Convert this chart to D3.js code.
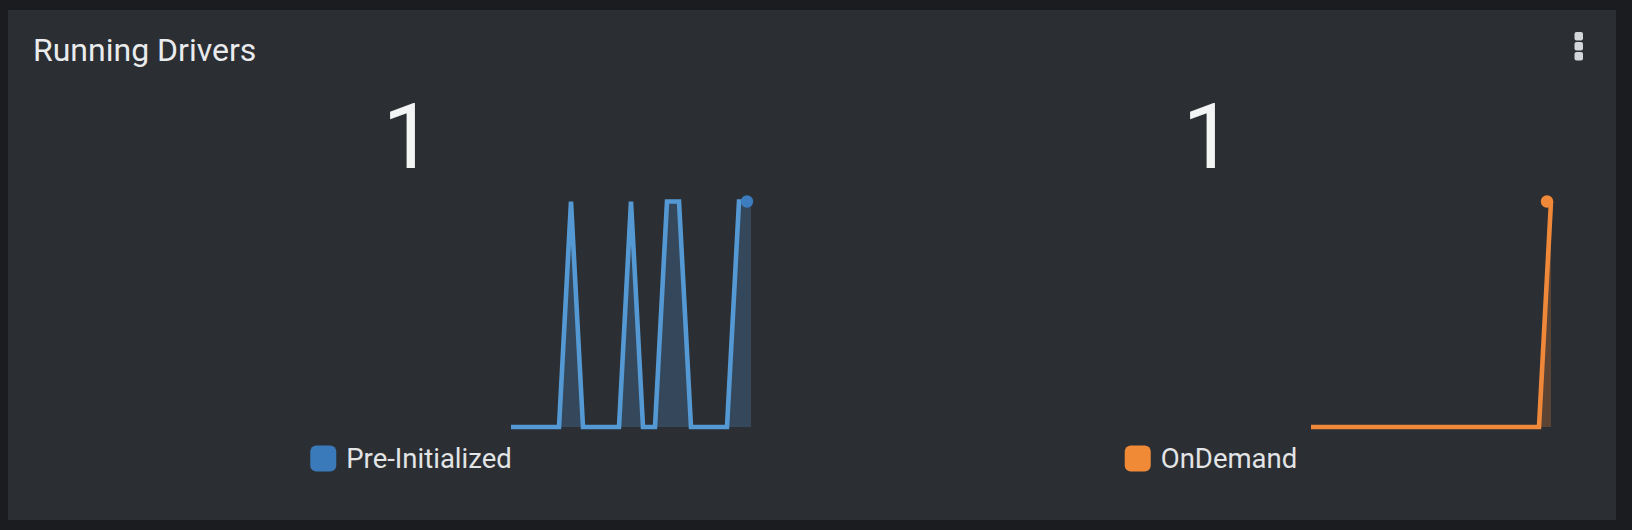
<!DOCTYPE html>
<html><head><meta charset="utf-8">
<script src="https://cdn.jsdelivr.net/npm/d3@7/dist/d3.min.js"></script>
<style>html,body{margin:0;padding:0;background:#1b1c20;overflow:hidden}</style>
</head><body>
<svg id="c" width="1632" height="530"></svg>
<script>
const title = "Running Drivers";
const seriesNames = ["Pre-Initialized", "OnDemand"];
const latestValues = [1, 1];
const preInitialized = [0,0,0,0,0,1,0,0,0,0,1,0,0,1,1,0,0,0,0,1,1];
const onDemand       = [0,0,0,0,0,0,0,0,0,0,0,0,0,0,0,0,0,0,0,0,1];
const lineColors = ["#5499d3", "#f0883a"];
const dotColors = ["#3d7cbe", "#f0883a"];
const legendColors = ["#3a7aba", "#f08a36"];

const svg = d3.select("#c");
const font = "Roboto, 'Open Sans', sans-serif";
svg.append("rect").attr("x",0).attr("y",0).attr("width",1632).attr("height",530).attr("fill","#1b1c20");
svg.append("rect").attr("x",8).attr("y",10).attr("width",1608).attr("height",510).attr("fill","#2b2e33");

svg.append("text").attr("x",33).attr("y",61).attr("font-family",font).attr("font-size",32)
  .attr("fill","#e9ebed").text(title);

// kebab menu
[32,42,52].forEach(y=>svg.append("rect").attr("x",1574.5).attr("y",y).attr("width",8.5).attr("height",8.5)
  .attr("rx",2).attr("fill","#d3d7da"));

const allSeries = [preInitialized, onDemand];
const centers = [410, 1210];
const y = d3.scaleLinear().domain([0,1]).range([427,201.5]);

allSeries.forEach((data,i)=>{
  const c = centers[i];
  const g = svg.append("g");
  // big number
  g.append("text").attr("x",c-2).attr("y",168).attr("text-anchor","middle")
    .attr("font-family",font).attr("font-size",91).attr("fill","#f3f4f4").text(latestValues[i]);
  const x = d3.scaleLinear().domain([0,data.length-1]).range([c+101, c+341]);
  const area = d3.area().x((d,j)=>x(j)).y0(y(0)).y1(d=>y(d));
  const line = d3.line().x((d,j)=>x(j)).y(d=>y(d));
  g.append("path").attr("d",area(data)).attr("fill",lineColors[i]).attr("fill-opacity",0.25);
  g.append("path").attr("d",line(data)).attr("fill","none").attr("stroke",lineColors[i]).attr("stroke-width",4.6);
  const last = data.length-1;
  g.append("circle").attr("cx",x(last)-4).attr("cy",y(data[last])).attr("r",6.2).attr("fill",dotColors[i]);
  // legend
  const lg = g.append("g");
  const t = lg.append("text").attr("y",468).attr("font-family",font).attr("font-size",27.5)
    .attr("fill","#e2e4e6").text(seriesNames[i]);
  const tw = t.node().getComputedTextLength();
  const left = c + 1 - (26 + 10 + tw)/2;
  lg.append("rect").attr("x",left).attr("y",445.5).attr("width",26).attr("height",26).attr("rx",6).attr("fill",legendColors[i]);
  t.attr("x", left + 36);
});
</script>
</body></html>
